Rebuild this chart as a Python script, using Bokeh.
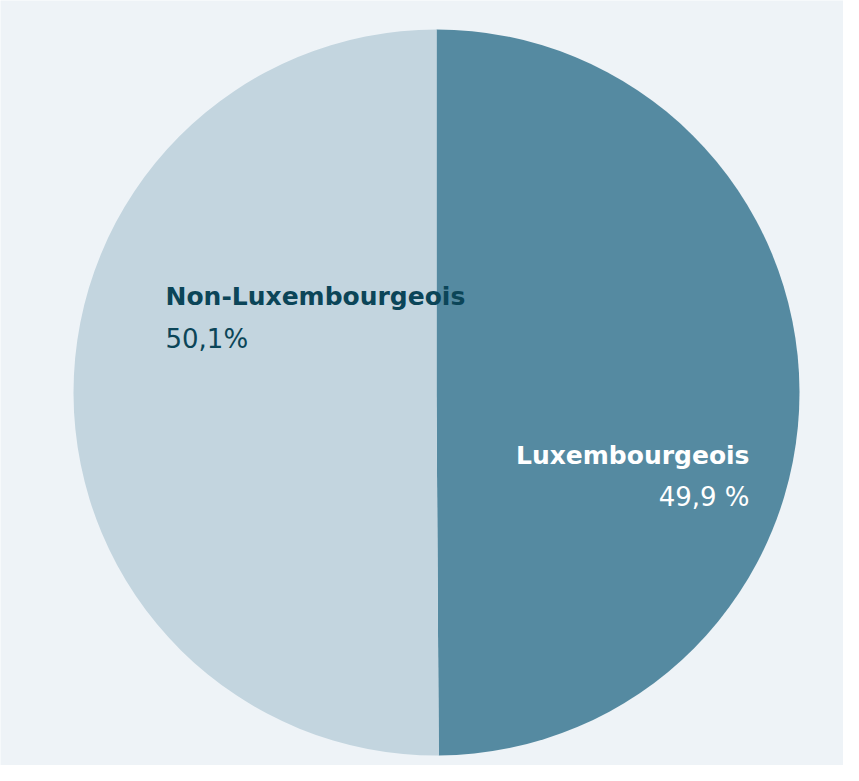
import math
from bokeh.plotting import figure
from bokeh.models import ColumnDataSource
from bokeh.core.properties import value
from bokeh.embed import file_html
from bokeh.resources import INLINE

categories = ["Luxembourgeois", "Non-Luxembourgeois"]
shares = [49.9, 50.1]
share_labels = ["49,9 %", "50,1%"]
colors = ["#558aa1", "#c3d5df"]

W, H = 843, 765
p = figure(width=W, height=H, output_backend="svg", toolbar_location=None,
           x_range=(0, W), y_range=(-H, 0), min_border=0,
           background_fill_color="#eef3f7", border_fill_color="#eef3f7")
p.axis.visible = False
p.grid.visible = False
p.outline_line_color = None

total = sum(shares)
starts, ends = [], []
a = math.pi / 2
for s in shares:
    starts.append(a)
    a = a - 2 * math.pi * s / total
    ends.append(a)

src = ColumnDataSource(dict(start=starts, end=ends, color=colors))
p.wedge(x=436, y=-392, radius=363, start_angle="start", end_angle="end",
        direction="clock", fill_color="color", line_color=None, source=src)

font = value("DejaVu Sans")
# Luxembourgeois (right, white, right aligned)
p.text(x=[749], y=[-455], text=[categories[0]], text_color="white",
       text_font=font, text_font_style="bold", text_font_size="25px",
       text_align="right", text_baseline="alphabetic")
p.text(x=[749], y=[-496], text=[share_labels[0]], text_color="white",
       text_font=font, text_font_size="26px",
       text_align="right", text_baseline="alphabetic")
# Non-Luxembourgeois (left, dark)
p.text(x=[165], y=[-296], text=[categories[1]], text_color="#0b4558",
       text_font=font, text_font_style="bold", text_font_size="25px",
       text_align="left", text_baseline="alphabetic")
p.text(x=[165], y=[-338], text=[share_labels[1]], text_color="#0b4558",
       text_font=font, text_font_size="26px",
       text_align="left", text_baseline="alphabetic")

open("out.html", "w").write(file_html(p, INLINE))
